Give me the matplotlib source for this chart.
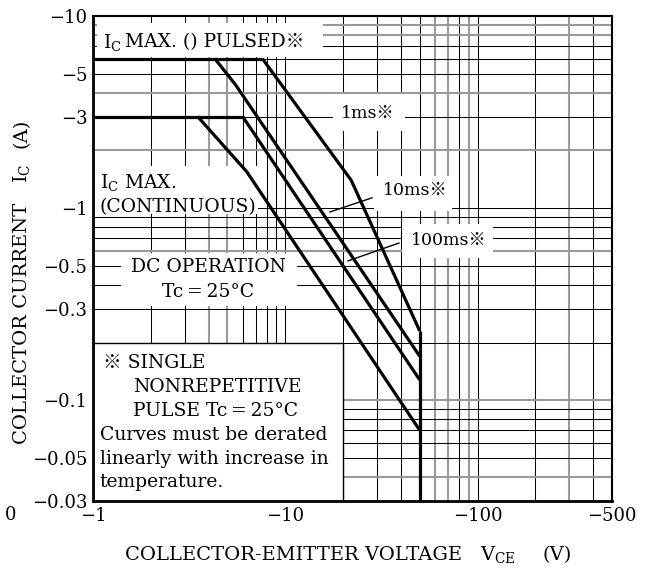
import matplotlib
matplotlib.use("Agg")
import matplotlib.pyplot as plt
from matplotlib.patches import Rectangle
from matplotlib.ticker import FixedLocator, NullLocator

plt.rcParams['font.family'] = ['DejaVu Serif', 'Noto Sans CJK JP']
plt.rcParams['mathtext.fontset'] = 'dejavuserif'

# --- data (magnitudes; labels carry the minus sign) ---
v_pulsed_max = [1, 7.6]
ic_pulsed_max = [6, 6]

v_cont_max = [1, 6]
ic_cont_max = [3, 3]

v_1ms = [7.6, 22, 50]
ic_1ms = [6, 1.4, 0.23]

v_10ms = [4.3, 5.5, 50]
ic_10ms = [6, 4.4, 0.17]

v_100ms = [6, 50]
ic_100ms = [3, 0.128]

v_dc = [3.5, 6.3, 50]
ic_dc = [3, 1.55, 0.07]

v_limit = [50, 50]
ic_limit = [0.23, 0.03]

x_ticks = [1, 10, 100, 500]
x_ticklabels = ['\u22121', '\u221210', '\u2212100', '\u2212500']
y_ticks = [10, 5, 3, 1, 0.5, 0.3, 0.1, 0.05, 0.03]
y_ticklabels = ['\u221210', '\u22125', '\u22123', '\u22121', '\u22120.5',
                '\u22120.3', '\u22120.1', '\u22120.05', '\u22120.03']

W, H = 646, 569
fig = plt.figure(figsize=(W / 100, H / 100), dpi=100)
ax = fig.add_axes([93 / W, 1 - 501 / H, 519 / W, 485 / H])
ax.set_xscale('log')
ax.set_yscale('log')
ax.set_xlim(1, 500)
ax.set_ylim(0.03, 10)

# grid drawn by hand so a few lines can look grey like the scan
gray_x = [4, 5, 60, 70, 90, 300]
gray_y = [9, 8, 4, 2, 0.6, 0.1, 0.04]
for dec in [1, 10, 100]:
    for m in range(1, 10):
        v = dec * m
        if 1 < v < 500:
            if v in gray_x:
                ax.axvline(v, color='#9a9a9a', lw=1.5, zorder=1)
            else:
                ax.axvline(v, color='black', lw=0.75, zorder=1)
for dec in [0.01, 0.1, 1]:
    for m in range(1, 10):
        i = round(dec * m, 4)
        if 0.03 < i < 10:
            if i in gray_y:
                ax.axhline(i, color='#9a9a9a', lw=1.5, zorder=1)
            else:
                ax.axhline(i, color='black', lw=0.75, zorder=1)

# white label areas that hide the grid
boxes = [
    (0.008, 0.9155, 0.435, 0.070),   # pulsed
    (0.462, 0.763, 0.139, 0.076),    # 1ms
    (0.541, 0.598, 0.151, 0.072),    # 10ms
    (0.595, 0.501, 0.176, 0.070),    # 100ms
    (0.000, 0.592, 0.318, 0.099),    # continuous
    (0.054, 0.402, 0.339, 0.109),    # dc operation
]
for (bx, by, bw, bh) in boxes:
    ax.add_patch(Rectangle((bx, by), bw, bh, transform=ax.transAxes,
                           facecolor='white', edgecolor='none', zorder=2))
ax.add_patch(Rectangle((0, 0), 0.4817, 0.3258, transform=ax.transAxes,
                       facecolor='white', edgecolor='black', lw=1.0, zorder=2))

lw = 2.3
for vv, ii in [(v_pulsed_max, ic_pulsed_max), (v_cont_max, ic_cont_max),
               (v_1ms, ic_1ms), (v_10ms, ic_10ms), (v_100ms, ic_100ms),
               (v_dc, ic_dc), (v_limit, ic_limit)]:
    ax.plot(vv, ii, color='black', lw=lw, solid_capstyle='butt', zorder=4)

fs = 13.5
ax.text(0.019, 0.946, '$\\mathrm{I_C}$', transform=ax.transAxes,
        fontsize=fs, va='center', ha='left', zorder=3)
ax.text(0.0617, 0.946, 'MAX. () PULSED※', transform=ax.transAxes,
        fontsize=fs, va='center', ha='left', zorder=3)
ax.text(0.530, 0.800, '1ms※', transform=ax.transAxes, fontsize=12.5,
        va='center', ha='center', zorder=3)
ax.text(0.620, 0.641, '10ms※', transform=ax.transAxes, fontsize=12.5,
        va='center', ha='center', zorder=3)
ax.text(0.686, 0.538, '100ms※', transform=ax.transAxes, fontsize=12.5,
        va='center', ha='center', zorder=3)
ax.annotate('', xy=(0.451, 0.594), xytext=(0.543, 0.627),
            xycoords='axes fraction', textcoords='axes fraction',
            arrowprops=dict(arrowstyle='-', color='black', lw=1.0), zorder=3)
ax.annotate('', xy=(0.486, 0.493), xytext=(0.595, 0.534),
            xycoords='axes fraction', textcoords='axes fraction',
            arrowprops=dict(arrowstyle='-', color='black', lw=1.0), zorder=3)

ax.text(0.013, 0.657, '$\\mathrm{I_C}$ MAX.', transform=ax.transAxes,
        fontsize=fs, va='center', ha='left', zorder=3)
ax.text(0.013, 0.606, '(CONTINUOUS)', transform=ax.transAxes,
        fontsize=fs, va='center', ha='left', zorder=3)
ax.text(0.222, 0.482, 'DC OPERATION', transform=ax.transAxes,
        fontsize=fs, va='center', ha='center', zorder=3)
ax.text(0.222, 0.431, 'Tc\u2009=\u200925\u00b0C', transform=ax.transAxes,
        fontsize=fs, va='center', ha='center', zorder=3)

note_lines = [
    (0.020, 0.284, '※ SINGLE'),
    (0.077, 0.235, 'NONREPETITIVE'),
    (0.077, 0.186, 'PULSE Tc\u2009=\u200925\u00b0C'),
    (0.013, 0.136, 'Curves must be derated'),
    (0.013, 0.087, 'linearly with increase in'),
    (0.013, 0.039, 'temperature.'),
]
for (tx, ty, s) in note_lines:
    ax.text(tx, ty, s, transform=ax.transAxes, fontsize=fs,
            va='center', ha='left', zorder=3)

ax.xaxis.set_major_locator(FixedLocator(x_ticks))
ax.xaxis.set_minor_locator(NullLocator())
ax.set_xticklabels(x_ticklabels, fontsize=13)
ax.yaxis.set_major_locator(FixedLocator(y_ticks))
ax.yaxis.set_minor_locator(NullLocator())
ax.set_yticklabels(y_ticklabels, fontsize=13)
ax.tick_params(length=0, pad=4)

for side in ['left', 'bottom']:
    ax.spines[side].set_linewidth(2.0)
for side in ['top', 'right']:
    ax.spines[side].set_linewidth(1.5)
for sp in ax.spines.values():
    sp.set_zorder(5)

# axis titles, placed piece by piece like the datasheet
lab = 14
fig.text(125 / W, 1 - 560 / H, 'COLLECTOR-EMITTER VOLTAGE', fontsize=lab,
         ha='left', va='baseline')
fig.text(480 / W, 1 - 560 / H, '$\\mathrm{V_{CE}}$', fontsize=lab,
         ha='left', va='baseline')
fig.text(543 / W, 1 - 560 / H, '(V)', fontsize=lab, ha='left', va='baseline')
fig.text(22 / W, 1 - 323 / H, 'COLLECTOR CURRENT', fontsize=lab,
         ha='center', va='center', rotation=90)
fig.text(22 / W, 1 - 173 / H, '$\\mathrm{I_C}$', fontsize=lab,
         ha='center', va='center', rotation=90)
fig.text(22 / W, 1 - 133 / H, '(A)', fontsize=lab,
         ha='center', va='center', rotation=90)
fig.text(0.008, 0.095, '0', fontsize=13, ha='left', va='center')

fig.savefig('out.png', dpi=100)
